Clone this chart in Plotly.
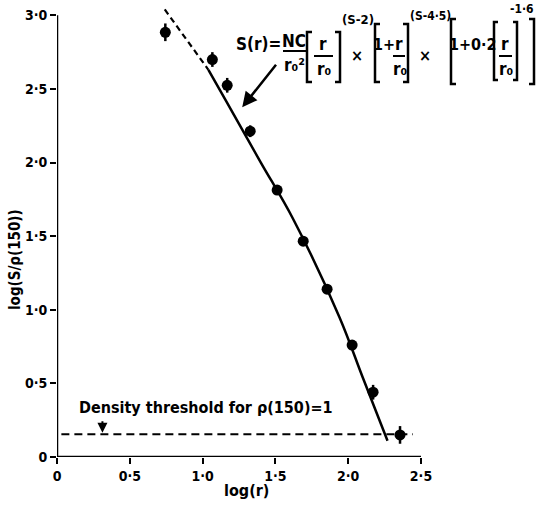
import plotly.graph_objects as go

# ---------------- data ----------------
obs_x = [0.744, 1.067, 1.169, 1.327, 1.512, 1.691, 1.855, 2.027, 2.171, 2.356]
obs_y = [2.885, 2.700, 2.525, 2.213, 1.813, 1.466, 1.140, 0.760, 0.440, 0.150]
obs_err = [0.06, 0.05, 0.05, 0.04, 0.03, 0.03, 0.03, 0.03, 0.05, 0.06]

fit_x = [1.04, 1.16, 1.40, 1.62, 1.94, 2.10, 2.27]
fit_y = [2.63, 2.42, 2.00, 1.62, 0.95, 0.54, 0.11]

ext_x = [0.74, 1.04]
ext_y = [3.04, 2.63]

threshold_level = 0.155
threshold_x = [0.03, 2.445]

x_ticks = [0, 0.5, 1.0, 1.5, 2.0, 2.5]
x_ticklabels = ["0", "0·5", "1·0", "1·5", "2·0", "2·5"]
y_ticks = [0, 0.5, 1.0, 1.5, 2.0, 2.5, 3.0]
y_ticklabels = ["0", "0·5", "1·0", "1·5", "2·0", "2·5", "3·0"]

# ---------------- layout geometry ----------------
W, H = 537, 507
PL, PR, PT, PB = 57, 421, 8, 457  # plot area in pixels


def px(p):
    return (p - PL) / (PR - PL)


def py(p):
    return (PB - p) / (PB - PT)


FONT = "DejaVu Sans Condensed, Liberation Sans Narrow, Roboto Condensed, DejaVu Sans, sans-serif"

fig = go.Figure()

fig.add_trace(go.Scatter(x=threshold_x, y=[threshold_level] * len(threshold_x), mode="lines",
                         line=dict(color="black", width=2, dash="8px,5px"), showlegend=False))
fig.add_trace(go.Scatter(x=ext_x, y=ext_y, mode="lines",
                         line=dict(color="black", width=2.2, dash="6px,4px"), showlegend=False))
fig.add_trace(go.Scatter(x=fit_x, y=fit_y, mode="lines", line_shape="spline",
                         line=dict(color="black", width=2.5), showlegend=False))
fig.add_trace(go.Scatter(x=obs_x, y=obs_y, mode="markers",
                         marker=dict(color="black", size=11, symbol="circle"),
                         error_y=dict(type="data", array=obs_err, color="black", thickness=2.5, width=0),
                         showlegend=False))

shapes = []
# axis lines
shapes.append(dict(type="line", xref="x", yref="y", x0=0, x1=0, y0=0, y1=3.0,
                   line=dict(color="black", width=2.5)))
shapes.append(dict(type="line", xref="x", yref="y", x0=-0.03, x1=2.5, y0=0, y1=0,
                   line=dict(color="black", width=2.5)))


def bracket(xl, xr, yt, yb, w=5, left=True, right=True):
    out = []
    if left:
        out.append(dict(type="path", xref="paper", yref="paper",
                        path=f"M {px(xl + w)} {py(yt)} L {px(xl)} {py(yt)} L {px(xl)} {py(yb)} L {px(xl + w)} {py(yb)}",
                        line=dict(color="black", width=2.5)))
    if right:
        out.append(dict(type="path", xref="paper", yref="paper",
                        path=f"M {px(xr - w)} {py(yt)} L {px(xr)} {py(yt)} L {px(xr)} {py(yb)} L {px(xr - w)} {py(yb)}",
                        line=dict(color="black", width=2.5)))
    return out


def hline(x0, x1, y):
    return dict(type="line", xref="paper", yref="paper", x0=px(x0), x1=px(x1), y0=py(y), y1=py(y),
                line=dict(color="black", width=2))


shapes += bracket(307, 340, 32, 82)
shapes += bracket(375, 408, 24, 82)
shapes += bracket(451, 534, 19, 84)
shapes += bracket(494, 517, 22, 80, w=4)
shapes.append(hline(283, 306, 51))   # NC / r0^2
shapes.append(hline(314, 333, 56))   # r / r0
shapes.append(hline(393, 405, 56))   # r / r0
shapes.append(hline(499, 512, 56))   # r / r0

annotations = []


def txt(t, x, y, size=17, xanchor="center"):
    annotations.append(dict(text=t, xref="paper", yref="paper", x=px(x), y=py(y), showarrow=False,
                            xanchor=xanchor, yanchor="middle",
                            font=dict(family=FONT, size=size, color="black", weight="bold")))


txt("S(r)=", 258, 44)
txt("NC", 294, 41)
txt("r₀²", 294, 65)
txt("r", 323, 44)
txt("r₀", 324, 69)
txt("(S-2)", 358, 20, size=13)
txt("×", 357, 56, size=16)
txt("1+", 384, 45, size=16)
txt("r", 399, 44)
txt("r₀", 400, 69)
txt("(S-4·5)", 431, 16, size=12)
txt("×", 425, 56, size=16)
txt("1+0·2", 473, 45, size=16)
txt("r", 505, 44)
txt("r₀", 506, 69)
txt("-1·6", 536, 9, size=12, xanchor="right")

# arrow to curve
annotations.append(dict(x=1.272, y=2.376, xref="x", yref="y", text="", showarrow=True,
                        ax=35, ay=-44, arrowhead=2, arrowsize=1.2, arrowwidth=2.5, arrowcolor="black"))
# density threshold label + arrow
annotations.append(dict(text="Density threshold for ρ(150)=1", xref="paper", yref="paper",
                        x=px(77), y=py(407), xanchor="left", yanchor="middle", showarrow=False,
                        font=dict(family=FONT, size=16, color="black", weight="bold")))
annotations.append(dict(x=0.312, y=threshold_level + 0.01, xref="x", yref="y", text="", showarrow=True,
                        ax=0, ay=-13, arrowhead=2, arrowsize=1, arrowwidth=2, arrowcolor="black"))
# axis titles
annotations.append(dict(text="log(r)", xref="paper", yref="paper", x=px(246), y=py(490),
                        xanchor="center", yanchor="middle", showarrow=False,
                        font=dict(family=FONT, size=16, color="black", weight="bold")))
annotations.append(dict(text="log(S/ρ(150))", xref="paper", yref="paper", x=px(15), y=py(260),
                        xanchor="center", yanchor="middle", showarrow=False, textangle=-90,
                        font=dict(family=FONT, size=15, color="black", weight="bold")))

fig.update_layout(
    width=W, height=H, autosize=False,
    margin=dict(l=PL, r=W - PR, t=PT, b=H - PB, pad=0),
    paper_bgcolor="white", plot_bgcolor="white",
    font=dict(family=FONT, size=14, color="black", weight="bold"),
    shapes=shapes, annotations=annotations,
    xaxis=dict(range=[0, 2.5], tickvals=x_ticks, ticktext=x_ticklabels, ticks="outside",
               ticklen=6, tickwidth=2, tickcolor="black", showgrid=False, zeroline=False,
               showline=False),
    yaxis=dict(range=[0, 3.05], tickvals=y_ticks, ticktext=y_ticklabels, ticks="outside",
               ticklen=6, tickwidth=2, tickcolor="black", showgrid=False, zeroline=False,
               showline=False),
)

fig.write_html("out.html", config={"displayModeBar": False},
               post_script="document.body.style.margin='0';")
